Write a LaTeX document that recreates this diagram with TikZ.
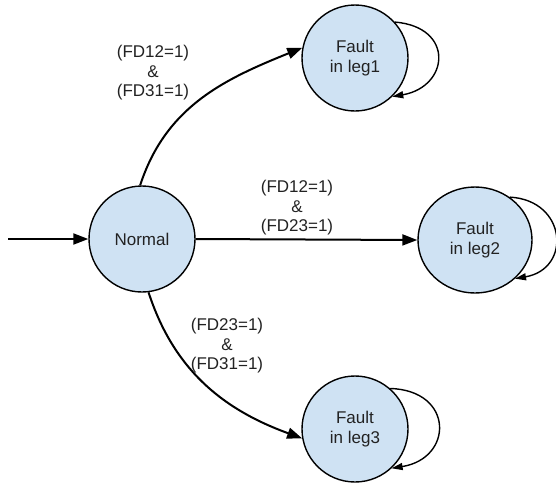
\documentclass[tikz,border=0pt]{standalone}
\usepackage{fontspec}
\setmainfont{Liberation Sans}
\usetikzlibrary{arrows.meta,shapes.geometric}
\definecolor{stfill}{HTML}{CFE2F3}
\definecolor{txtc}{HTML}{222222}
\tikzset{
  state/.style={circle, draw=black, line width=1.4pt, fill=stfill, minimum size=106pt, inner sep=0pt, align=center, text=txtc, font=\fontsize{17}{20}\selectfont},
  trans/.style={line width=2pt, -{Triangle[length=15pt,width=11pt]}},
  loopa/.style={line width=1.4pt, -{Triangle[length=11pt,width=7pt]}},
  lbl/.style={align=center, text=txtc, font=\fontsize{17}{19.5}\selectfont, inner sep=0pt}
}
\begin{document}
\begin{tikzpicture}[x=1pt,y=-1pt]
\useasboundingbox (0,0) rectangle (556,482);
\node[state] (n) at (142,239) {Normal};
\node[state] (l1) at (355,58) {Fault\\in leg1};
\node[state, ellipse, minimum width=114pt, minimum height=106pt] (l2) at (475,240) {Fault\\in leg2};
\node[state] (l3) at (355,429) {Fault\\in leg3};
\coordinate (s) at (8,239);
\draw[trans] (s) -- (n.west);
\draw[trans] (n.92) to[out=72,in=202] (l1.169);
\draw[trans] (n.east) -- (l2.west);
\draw[trans] (n.-83) to[out=-72,in=160] (l3.190);
\draw[loopa] (l1.42) .. controls +(60,5) and +(57,-10) .. (l1.-46);
\draw[loopa] (l2.51) .. controls +(57,3) and +(57,-10) .. (l2.-44);
\draw[loopa] (l3.49) .. controls +(64,2) and +(62,-10) .. (l3.-47);
\node[lbl] (t1) at (153,73) {(FD12=1)\\\&\\(FD31=1)};
\node[lbl] (t2) at (297,208) {(FD12=1)\\\&\\(FD23=1)};
\node[lbl] (t3) at (227,346) {(FD23=1)\\\&\\(FD31=1)};
\end{tikzpicture}
\end{document}
